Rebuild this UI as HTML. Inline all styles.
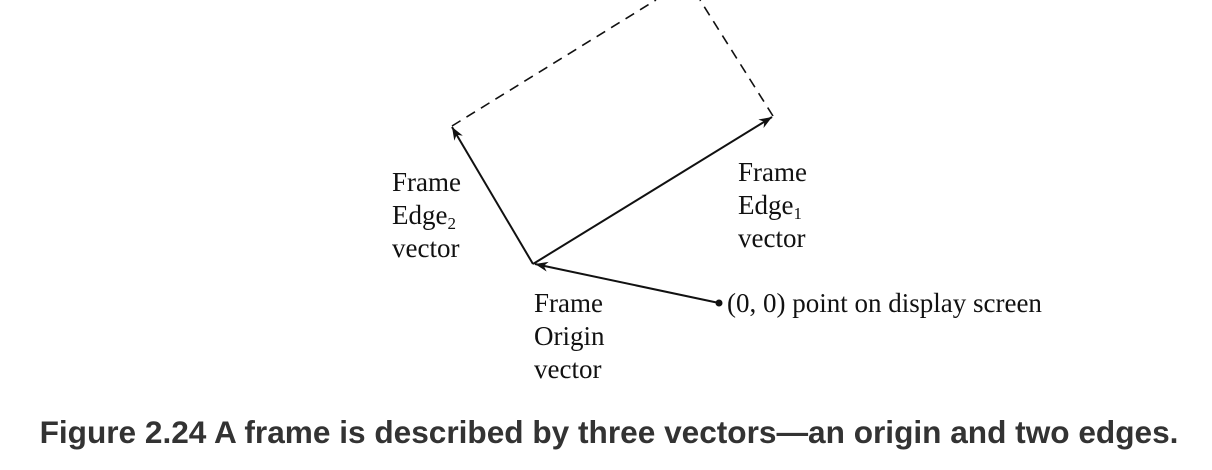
<!DOCTYPE html>
<html><head><style>
body{margin:0;width:1212px;height:470px;background:#fff;overflow:hidden;position:relative}
.t{position:absolute;font-family:"Liberation Serif",serif;font-size:27px;line-height:33px;color:#111}
.cap{position:absolute;left:3px;width:1212px;top:412px;text-align:center;font-family:"Liberation Sans",sans-serif;font-weight:bold;font-size:31.6px;line-height:40px;color:#333}
sub{font-size:17px;vertical-align:-5px;line-height:0}
</style></head><body>
<svg width="1212" height="470" style="position:absolute;left:0;top:0">
<defs><marker id="a" markerWidth="14" markerHeight="10" refX="13" refY="5" orient="auto" markerUnits="userSpaceOnUse"><path d="M0,0 L13,5 L0,10 L4,5 Z" fill="#111"/></marker></defs>
<g stroke="#111" stroke-width="2" fill="none">
<line x1="533" y1="264" x2="452" y2="127" marker-end="url(#a)"/>
<line x1="533" y1="264" x2="772" y2="117" marker-end="url(#a)"/>
<line x1="719" y1="303" x2="535" y2="264" marker-end="url(#a)"/>
<g stroke-dasharray="10,7" stroke-width="1.6"><line x1="452" y1="126" x2="656" y2="0"/><line x1="773" y1="116" x2="700" y2="0"/></g>
</g>
<circle cx="719" cy="303" r="3.5" fill="#111"/>
</svg>
<div class="t" style="left:392px;top:166px">Frame<br>Edge<sub>2</sub><br>vector</div>
<div class="t" style="left:738px;top:156px">Frame<br>Edge<sub>1</sub><br>vector</div>
<div class="t" style="left:534px;top:287px">Frame<br>Origin<br>vector</div>
<div class="t" style="left:727px;top:287px">(0, 0) point on display screen</div>
<div class="cap">Figure 2.24 A frame is described by three vectors—an origin and two edges.</div>
</body></html>
